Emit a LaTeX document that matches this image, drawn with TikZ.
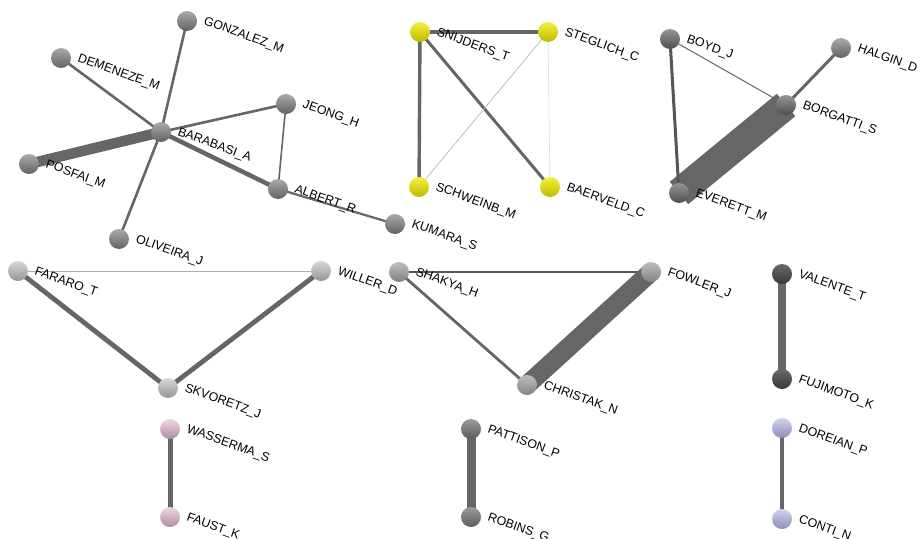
\documentclass[tikz,border=0pt]{standalone}
\usepackage{fontspec}
\setmainfont{Liberation Sans}
\pgfdeclarelayer{paper}
\pgfdeclarelayer{bg}
\pgfsetlayers{paper,bg,main}
\definecolor{edgec}{HTML}{666666}
\tikzset{
  x=1pt, y=-1pt,
  nd/.style={circle, minimum size=20pt, inner sep=0pt, draw=none},
  cmid/.style={nd, top color={rgb,255:red,170;green,170;blue,170}, bottom color={rgb,255:red,98;green,98;blue,98}},
  cdark/.style={nd, top color={rgb,255:red,150;green,150;blue,150}, bottom color={rgb,255:red,78;green,78;blue,78}},
  cyel/.style={nd, top color={rgb,255:red,245;green,240;blue,60}, bottom color={rgb,255:red,190;green,186;blue,0}},
  clight/.style={nd, top color={rgb,255:red,215;green,215;blue,215}, bottom color={rgb,255:red,150;green,150;blue,150}},
  clight2/.style={nd, top color={rgb,255:red,190;green,190;blue,190}, bottom color={rgb,255:red,130;green,130;blue,130}},
  cvdark/.style={nd, top color={rgb,255:red,105;green,105;blue,105}, bottom color={rgb,255:red,55;green,55;blue,55}},
  cpat/.style={nd, top color={rgb,255:red,155;green,155;blue,155}, bottom color={rgb,255:red,92;green,92;blue,92}},
  cpink/.style={nd, top color={rgb,255:red,238;green,214;blue,230}, bottom color={rgb,255:red,175;green,140;blue,160}},
  clav/.style={nd, top color={rgb,255:red,210;green,210;blue,238}, bottom color={rgb,255:red,140;green,140;blue,185}},
  lbl/.style={anchor=base west, rotate=-20, inner sep=0pt, text=black, font=\fontsize{12.4}{14}\selectfont},
  edg/.style={draw=edgec, line width=2.6pt},
}
\newcommand\person[5]{%
  \node[#4] (#1) at (#2,#3) {};
  \node[lbl] (#1-l) at ([shift={(16,3)}]#1.center) {#5};
}
\begin{document}
\begin{tikzpicture}
\useasboundingbox (0,0) rectangle (920,538);
\begin{pgfonlayer}{paper}
\fill[white] (0,0) rectangle (920,538);
\end{pgfonlayer}
% nodes
\person{GON}{187}{21}{cmid}{GONZALEZ\_M}
\person{DEM}{61}{58}{cmid}{DEMENEZE\_M}
\person{JEO}{286}{104}{cmid}{JEONG\_H}
\person{BAR}{161}{132}{cmid}{BARABASI\_A}
\person{POS}{29}{164}{cmid}{POSFAI\_M}
\person{ALB}{278}{189}{cmid}{ALBERT\_R}
\person{KUM}{395}{224}{cmid}{KUMARA\_S}
\person{OLI}{119}{239}{cmid}{OLIVEIRA\_J}
\person{SNI}{420}{32}{cyel}{SNIJDERS\_T}
\person{STE}{548}{32}{cyel}{STEGLICH\_C}
\person{SCH}{419}{187}{cyel}{SCHWEINB\_M}
\person{BAE}{550}{187}{cyel}{BAERVELD\_C}
\person{BOY}{670}{39}{cdark}{BOYD\_J}
\person{HAL}{841}{48}{cmid}{HALGIN\_D}
\person{BOR}{786}{105}{cdark}{BORGATTI\_S}
\person{EVE}{679}{193}{cdark}{EVERETT\_M}
\person{FAR}{18}{271}{clight}{FARARO\_T}
\person{WIL}{321}{271}{clight}{WILLER\_D}
\person{SKV}{168}{388}{clight}{SKVORETZ\_J}
\person{WAS}{170}{429}{cpink}{WASSERMA\_S}
\person{FAU}{170}{517}{cpink}{FAUST\_K}
\person{SHA}{399}{272}{clight2}{SHAKYA\_H}
\person{FOW}{651}{272}{clight2}{FOWLER\_J}
\person{CHR}{527}{385}{clight2}{CHRISTAK\_N}
\person{VAL}{782}{274}{cvdark}{VALENTE\_T}
\person{FUJ}{782}{379}{cvdark}{FUJIMOTO\_K}
\person{PAT}{471}{429}{cpat}{PATTISON\_P}
\person{ROB}{471}{517}{cpat}{ROBINS\_G}
\person{DOR}{782}{428}{clav}{DOREIAN\_P}
\person{CON}{782}{519}{clav}{CONTI\_N}
% edges
\begin{pgfonlayer}{bg}
\draw[edg, line width=10.5pt, line cap=round] (BAR.center) -- (POS.center);
\draw[edg, line width=4.5pt] (BAR.center) -- (ALB.center);
\draw[edg] (BAR.center) -- (GON.center);
\draw[edg] (BAR.center) -- (DEM.center);
\draw[edg] (BAR.center) -- (OLI.center);
\draw[edg] (BAR.center) -- (JEO.center);
\draw[edg, line width=1.6pt] (JEO.center) -- (ALB.center);
\draw[edg, line width=2.2pt] (ALB.center) -- (KUM.center);
\draw[edg, line width=3.2pt] (SNI.center) -- (STE.center);
\draw[edg, line width=3.4pt] (SNI.center) -- (SCH.center);
\draw[edg, line width=3pt] (SNI.center) -- (BAE.center);
\draw[draw={rgb,255:red,185;green,185;blue,185}, line width=0.7pt] (STE.center) -- (SCH.center);
\draw[draw={rgb,255:red,225;green,225;blue,225}, line width=0.7pt] (STE.center) -- (BAE.center);
\draw[edg, line width=29pt] (BOR.center) -- (EVE.center);
\draw[edg, line width=1pt] (BOY.center) -- (BOR.center);
\draw[edg, draw={rgb,255:red,85;green,85;blue,85}, line width=3pt] (BOY.center) -- (EVE.center);
\draw[edg, line width=3pt] (BOR.center) -- (HAL.center);
\draw[draw={rgb,255:red,175;green,175;blue,175}, line width=1pt] (FAR.center) -- (WIL.center);
\draw[edg, line width=4.8pt] (FAR.center) -- (SKV.center);
\draw[edg, line width=4.8pt] (WIL.center) -- (SKV.center);
\draw[edg, line width=5pt] (WAS.center) -- (FAU.center);
\draw[edg, draw={rgb,255:red,85;green,85;blue,85}, line width=1.8pt] (SHA.center) -- (FOW.center);
\draw[edg, line width=2.8pt] (SHA.center) -- (CHR.center);
\draw[edg, line width=19pt, line cap=round] (FOW.center) -- (CHR.center);
\draw[edg, line width=8.5pt] (VAL.center) -- (FUJ.center);
\draw[edg, line width=9pt] (PAT.center) -- (ROB.center);
\draw[edg, line width=4.5pt] (DOR.center) -- (CON.center);
\end{pgfonlayer}
\end{tikzpicture}
\end{document}
